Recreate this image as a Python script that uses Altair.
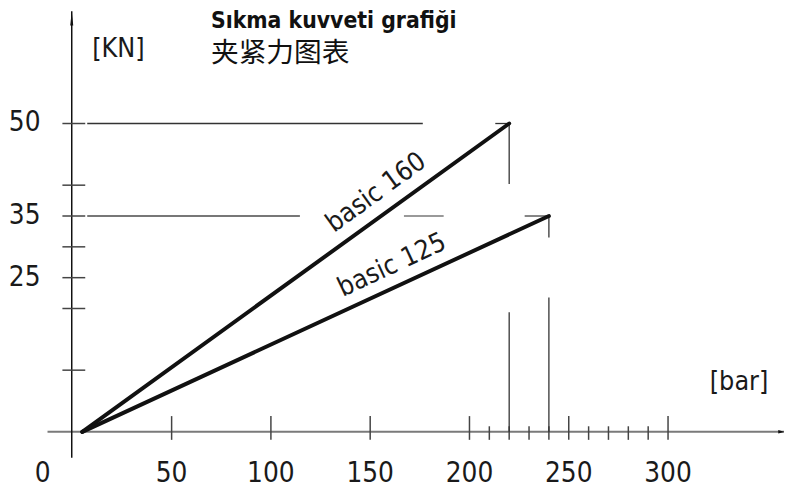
import altair as alt
import pandas as pd

# ---- data (bar on x, KN on y) ----
series_names = ["basic 160", "basic 125"]
start_bar = [5, 5]
start_kn = [0, 0]
end_bar = [220, 240]
end_kn = [50, 35]

x_major_ticks = [50, 100, 150, 200, 250, 300]
x_minor_ticks = [210, 220, 230, 240, 260, 270, 280, 290]
x_label_values = [50, 100, 150, 200, 250, 300]
x_label_text = ["50", "100", "150", "200", "250", "300"]
y_ticks = [10, 20, 25, 30, 35, 40, 50]
y_label_values = [25, 35, 50]

# guide segments (data units)
h_dark_from = [7.5, 213]
h_dark_to = [176.5, 220]
h_dark_at = [50, 50]
h_gray_from = [7.5, 227.8]
h_gray_to = [114.6, 240]
h_gray_at = [35, 35]
h_light_from = [167]
h_light_to = [187]
h_light_at = [35]
v_at = [220, 220, 240, 240]
v_from = [50, 19.4, 35, 21.8]
v_to = [40.2, 0, 31.5, 0]

title_tr = "Sıkma kuvveti grafiği"
title_cn = "夹紧力图表"
unit_y = "[KN]"
unit_x = "[bar]"

FONT = "DejaVu Sans Condensed, sans-serif"
CJK = "Noto Sans CJK SC"

XS = alt.Scale(domain=[-32.4, 358.4], nice=False, zero=False)
YS = alt.Scale(domain=[-9.68, 68.33], nice=False, zero=False)


def X(f="x"):
    return alt.X(f"{f}:Q", scale=XS, axis=None)


def Y(f="y"):
    return alt.Y(f"{f}:Q", scale=YS, axis=None)


def hrules(x1, x2, y, color, width):
    df = pd.DataFrame({"x": x1, "x2": x2, "y": y})
    return alt.Chart(df).mark_rule(color=color, strokeWidth=width).encode(
        x=X(), x2="x2:Q", y=Y())


def vrules(x, y1, y2, color, width):
    df = pd.DataFrame({"x": x, "y": y1, "y2": y2})
    return alt.Chart(df).mark_rule(color=color, strokeWidth=width).encode(
        x=X(), y=Y(), y2="y2:Q")


layers = []

# axes lines
layers.append(hrules([-12.5], [358.4], [0], "#7a7a7a", 2))
layers.append(vrules([-0.3], [-4.2], [68.2], "#111111", 1.5))

# y ticks
layers.append(hrules([-5] * len(y_ticks), [6.5] * len(y_ticks), y_ticks, "#444444", 1.5))
# x ticks
layers.append(vrules(x_major_ticks, [-1.3] * len(x_major_ticks), [2.55] * len(x_major_ticks), "#444444", 1.5))
layers.append(vrules(x_minor_ticks, [-1.3] * len(x_minor_ticks), [0.9] * len(x_minor_ticks), "#444444", 1.5))

# guide lines
layers.append(hrules(h_dark_from, h_dark_to, h_dark_at, "#333333", 1.3))
layers.append(hrules(h_gray_from, h_gray_to, h_gray_at, "#777777", 1.8))
layers.append(hrules(h_light_from, h_light_to, h_light_at, "#999999", 2))
layers.append(vrules(v_at, v_from, v_to, "#333333", 1.3))

# arrows
arrow_up = pd.DataFrame({"x": [-0.3], "y": [67.0]})
layers.append(alt.Chart(arrow_up).mark_point(
    shape="M0,-1L0.22,1L-0.22,1Z", filled=True, color="#111111", size=196, opacity=1
).encode(x=X(), y=Y()))
arrow_right = pd.DataFrame({"x": [357.0], "y": [0]})
layers.append(alt.Chart(arrow_right).mark_point(
    shape="M1,0L-1,-0.6L-1,0.6Z", filled=True, color="#111111", size=36, opacity=1
).encode(x=X(), y=Y()))

# series lines
rows = []
for n, sb, sk, eb, ek in zip(series_names, start_bar, start_kn, end_bar, end_kn):
    rows.append({"series": n, "x": sb, "y": sk, "o": 0})
    rows.append({"series": n, "x": eb, "y": ek, "o": 1})
lines_df = pd.DataFrame(rows)
layers.append(alt.Chart(lines_df).mark_line(color="#111111", strokeWidth=4, strokeCap="round").encode(
    x=X(), y=Y(), detail="series:N", order="o:Q"))

# series labels
lab160 = pd.DataFrame({"x": [153], "y": [38.8], "t": [series_names[0]]})
layers.append(alt.Chart(lab160).mark_text(
    font=FONT, fontSize=27, angle=324, color="#1a1a1a", align="center", baseline="middle"
).encode(x=X(), y=Y(), text="t:N"))
lab125 = pd.DataFrame({"x": [161], "y": [27.0], "t": [series_names[1]]})
layers.append(alt.Chart(lab125).mark_text(
    font=FONT, fontSize=27, angle=335, color="#1a1a1a", align="center", baseline="middle"
).encode(x=X(), y=Y(), text="t:N"))

# tick labels
xl = pd.DataFrame({"x": [-15] + x_label_values, "y": [-6.8] * (len(x_label_values) + 1),
                   "t": ["0"] + x_label_text})
layers.append(alt.Chart(xl).mark_text(
    font=FONT, fontSize=28, color="#1a1a1a", align="center", baseline="middle"
).encode(x=X(), y=Y(), text="t:N"))
yl = pd.DataFrame({"x": [-16] * len(y_label_values), "y": y_label_values,
                   "t": [str(v) for v in y_label_values]})
layers.append(alt.Chart(yl).mark_text(
    font=FONT, fontSize=28, color="#1a1a1a", align="right", baseline="middle"
).encode(x=X(), y=Y(), text="t:N"))

# units
layers.append(alt.Chart(pd.DataFrame({"x": [10], "y": [62.0], "t": [unit_y]})).mark_text(
    font=FONT, fontSize=27, color="#1a1a1a", align="left", baseline="middle"
).encode(x=X(), y=Y(), text="t:N"))
layers.append(alt.Chart(pd.DataFrame({"x": [321], "y": [8.0], "t": [unit_x]})).mark_text(
    font=FONT, fontSize=27, color="#1a1a1a", align="left", baseline="middle"
).encode(x=X(), y=Y(), text="t:N"))

# titles
layers.append(alt.Chart(pd.DataFrame({"x": [69.8], "y": [65.45], "t": [title_tr]})).mark_text(
    font=FONT, fontSize=23, fontWeight="bold", color="#111111", align="left", baseline="alphabetic"
).encode(x=X(), y=Y(), text="t:N"))
layers.append(alt.Chart(pd.DataFrame({"x": [69.8], "y": [61.27], "t": [title_cn]})).mark_text(
    font=CJK, fontSize=28, color="#111111", align="left", baseline="middle"
).encode(x=X(), y=Y(), text="t:N"))

chart = alt.layer(*layers).properties(
    width=784, height=486,
    autosize=alt.AutoSizeParams(type="none"),
    padding=0,
).configure_view(stroke=None)

chart.save("out.html", embed_options={"renderer": "svg", "actions": False})
